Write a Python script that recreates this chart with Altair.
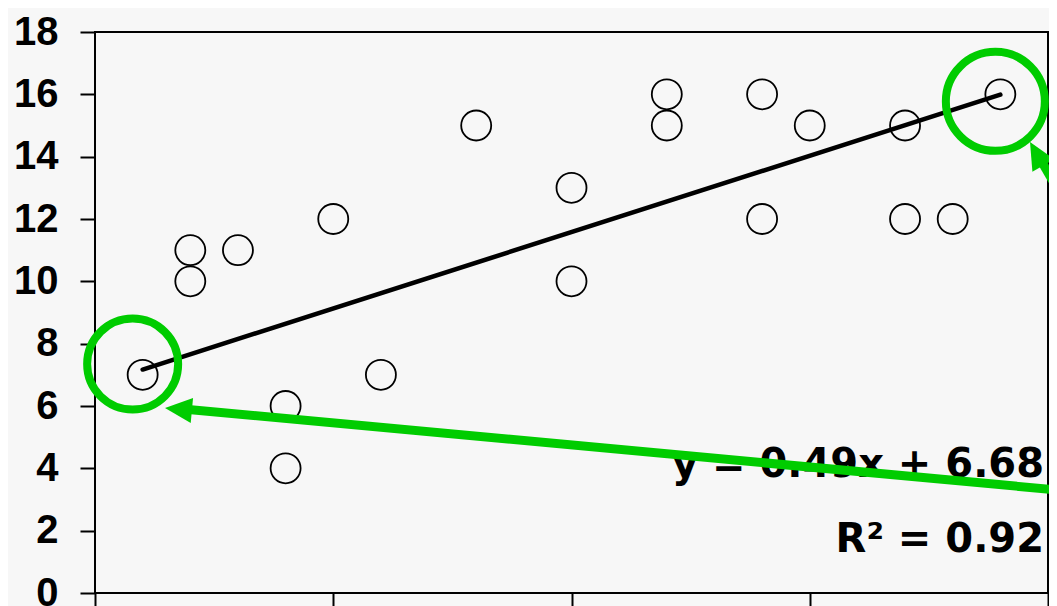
import altair as alt
import pandas as pd

# ---- data ----
x_vals = [1, 2, 2, 3, 4, 4, 5, 6, 8, 10, 10, 12, 12, 14, 14, 15, 17, 17, 18, 19]
y_vals = [7, 11, 10, 11, 6, 4, 12, 7, 15, 13, 10, 16, 15, 16, 12, 15, 15, 12, 12, 16]
hl_x = [1, 19]
hl_y = [7, 16]
trend_x = [1, 19]
trend_y = [7.17, 15.99]
y_ticks = [0, 2, 4, 6, 8, 10, 12, 14, 16, 18]
x_ticks = [0, 5, 10, 15, 20]
eq_label = "y = 0.49x + 6.68"
r2_label = "R\u00b2 = 0.92"

GREEN = "#00cc00"

pts = pd.DataFrame({"x": x_vals, "y": y_vals})
trend = pd.DataFrame({"x": trend_x, "y": trend_y})
one = pd.DataFrame({"a": [0]})

xs = alt.Scale(domain=[0, 20], nice=False, zero=False)
ys = alt.Scale(domain=[0, 18], nice=False)
X = alt.X("x:Q", scale=xs,
          axis=alt.Axis(values=x_ticks, labels=False, title=None, domain=False,
                        grid=False, ticks=True, tickSize=15, tickWidth=2,
                        tickColor="black"))
Y = alt.Y("y:Q", scale=ys,
          axis=alt.Axis(values=y_ticks, title=None, domain=False, grid=False,
                        tickSize=15, tickWidth=2, tickColor="black",
                        labelFont="Liberation Sans", labelFontSize=40,
                        labelFontWeight="bold", labelColor="black",
                        labelPadding=22))

points = alt.Chart(pts).mark_point(
    shape="circle", size=900, filled=False, color="black",
    strokeWidth=1.8, opacity=1
).encode(x=X, y=Y)

line = alt.Chart(trend).mark_line(
    color="black", strokeWidth=4.5, strokeCap="round"
).encode(x=X, y=Y)

ring1 = alt.Chart(pd.DataFrame({"x": [hl_x[0]], "y": [hl_y[0]]})).mark_point(
    shape="circle", size=8281, filled=False, color=GREEN, strokeWidth=8,
    opacity=1, xOffset=-10, yOffset=-10.8
).encode(x=X, y=Y)

ring2 = alt.Chart(pd.DataFrame({"x": [hl_x[1]], "y": [hl_y[1]]})).mark_point(
    shape="circle", size=9801, filled=False, color=GREEN, strokeWidth=8,
    opacity=1, xOffset=-5, yOffset=7
).encode(x=X, y=Y)

txt_style = dict(align="right", baseline="alphabetic", font="DejaVu Sans",
                 fontSize=40, fontWeight="bold", color="black")
eq = alt.Chart(one).mark_text(text=eq_label, **txt_style).encode(
    x=alt.value(949), y=alt.value(445))
r2 = alt.Chart(one).mark_text(text=r2_label, **txt_style).encode(
    x=alt.value(949), y=alt.value(520))

shaft1 = alt.Chart(one).mark_rule(color=GREEN, strokeWidth=9).encode(
    x=alt.value(968), y=alt.value(458.5), x2=alt.value(88), y2=alt.value(377))
head1 = alt.Chart(one).mark_point(
    shape="M0,0 L2,-0.93 L2,0.93 Z", filled=True, color=GREEN, size=729,
    angle=5.3, opacity=1, strokeWidth=0
).encode(x=alt.value(70), y=alt.value(376))

shaft2 = alt.Chart(one).mark_rule(color=GREEN, strokeWidth=9).encode(
    x=alt.value(944), y=alt.value(125), x2=alt.value(970), y2=alt.value(170))
head2 = alt.Chart(one).mark_point(
    shape="M0,0 L2,-0.93 L2,0.93 Z", filled=True, color=GREEN, size=729,
    angle=60.4, opacity=1, strokeWidth=0
).encode(x=alt.value(935), y=alt.value(110))

chart = alt.layer(
    points, line, ring1, ring2, eq, r2, shaft1, head1, shaft2, head2
).properties(
    width=953, height=561,
    padding={"left": 87, "top": 24, "right": 1, "bottom": 15},
    autosize=alt.AutoSizeParams(type="none"),
    background="#f7f7f7"
).configure_view(stroke="black", strokeWidth=2)

chart.save("out.html", embed_options={"renderer": "svg", "actions": False})
